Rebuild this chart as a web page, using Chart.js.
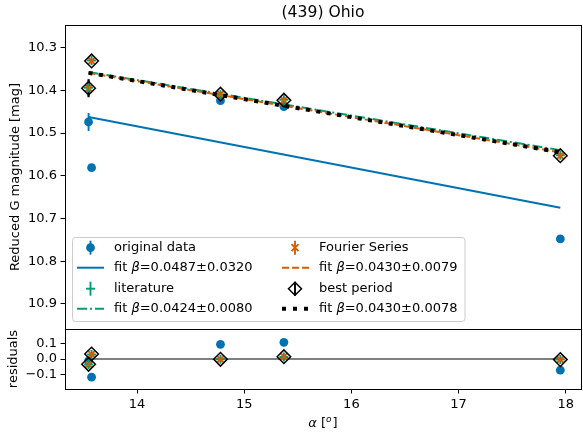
<!DOCTYPE html>
<html>
<head>
<meta charset="utf-8">
<script src="https://cdn.jsdelivr.net/npm/chart.js@4.4.1/dist/chart.umd.min.js"></script>
<style>
  body { margin: 0; background: #fff; }
  #wrap { position: relative; width: 583px; height: 437px; }
  #main { position: absolute; left: 0; top: 0; }
  #res { position: absolute; left: 0; top: 329px; }
</style>
</head>
<body>
<div id="wrap">
  <canvas id="main" width="583" height="330"></canvas>
  <canvas id="res" width="583" height="108"></canvas>
</div>
<script>
// phase angles of the observations [deg]
const alpha = [13.547, 13.575, 14.778, 15.370, 17.950];

// reduced magnitudes
const origMag = [10.474, 10.581, 10.424, 10.438, 10.748];
const origErr = [0.021, 0.004, 0.004, 0.004, 0.004];
const litMag  = [10.394, 10.330, 10.410, 10.422, 10.552];
const litErr  = [0.020, 0.004, 0.004, 0.004, 0.004];
const fourMag = [10.395, 10.331, 10.409, 10.423, 10.553];
const fourErr = [0.020, 0.004, 0.004, 0.004, 0.004];
const bestMag = [10.395, 10.331, 10.409, 10.423, 10.553];
const bestErr = [0.021, 0.004, 0.004, 0.004, 0.004];

// linear fits (end points)
const fitAlpha   = [13.547, 17.950];
const fitOrigMag = [10.4625, 10.675];
const fitLitMag  = [10.357, 10.540];
const fitFourMag = [10.359, 10.545];
const fitBestMag = [10.359, 10.545];

// residuals
const resOrig = [-0.012, -0.120, 0.097, 0.110, -0.074];
const resLit  = [-0.036, 0.030, -0.002, 0.014, -0.004];
const resFour = [-0.035, 0.031, -0.002, 0.015, -0.004];
const resBest = [-0.035, 0.033, -0.002, 0.015, -0.004];
const zeroLine = [0, 0];

const seriesNames = ['original data', 'literature', 'Fourier Series', 'best period'];
const fitBetas = ['0.0487\u00b10.0320', '0.0424\u00b10.0080', '0.0430\u00b10.0079', '0.0430\u00b10.0078'];

const blue = '#0072B2', green = '#009E73', orange = '#D55E00';
const FONT = '"DejaVu Sans"';
const FS = 13;

Chart.defaults.font.family = FONT;
Chart.defaults.font.size = FS;
Chart.defaults.color = '#000';

const pts = (xs, ys) => xs.map((x, i) => ({x: x, y: ys[i]}));

function pointSet(ys, errs, color, style, radius, bw, order) {
  return {
    data: pts(alpha, ys), showLine: false, order: order,
    pointStyle: style, pointRadius: radius, pointBorderWidth: bw,
    pointBackgroundColor: style === 'circle' ? color : 'rgba(0,0,0,0)',
    pointBorderColor: color, errBars: errs, errColor: color
  };
}
function lineSet(xs, ys, color, width, dash, order) {
  return {
    data: pts(xs, ys), showLine: true, pointRadius: 0, order: order,
    borderColor: color, borderWidth: width, borderDash: dash, fill: false
  };
}

const errorBars = {
  id: 'errorBars',
  beforeDatasetsDraw(chart) {
    const {ctx, chartArea: a, scales: {x, y}} = chart;
    ctx.save();
    ctx.beginPath();
    ctx.rect(a.left, a.top, a.right - a.left, a.bottom - a.top);
    ctx.clip();
    chart.data.datasets.forEach(ds => {
      if (!ds.errBars) return;
      ctx.strokeStyle = ds.errColor;
      ctx.lineWidth = 1.9;
      ds.data.forEach((p, i) => {
        const px = x.getPixelForValue(p.x);
        ctx.beginPath();
        ctx.moveTo(px, y.getPixelForValue(p.y - ds.errBars[i]));
        ctx.lineTo(px, y.getPixelForValue(p.y + ds.errBars[i]));
        ctx.stroke();
      });
    });
    ctx.restore();
  }
};

const frame = {
  id: 'frame',
  afterDraw(chart) {
    const {ctx, chartArea: a} = chart;
    const l = Math.round(a.left) + 0.5, r = Math.round(a.right) + 0.5;
    const t = Math.round(a.top) + 0.5, b = Math.round(a.bottom) + 0.5;
    ctx.save();
    ctx.strokeStyle = '#000';
    ctx.lineWidth = 1;
    ctx.strokeRect(l, t, r - l, b - t);
    ctx.restore();
  }
};

function drawParts(ctx, parts, x, y) {
  parts.forEach(p => {
    ctx.font = (p[1] ? 'italic ' : '') + FS + 'px ' + FONT;
    ctx.fillText(p[0], x, y);
    x += ctx.measureText(p[0]).width;
  });
}

function handleLine(ctx, x0, x1, y, color, width, dash) {
  ctx.save();
  ctx.strokeStyle = color;
  ctx.lineWidth = width;
  ctx.setLineDash(dash);
  ctx.beginPath();
  ctx.moveTo(x0, y);
  ctx.lineTo(x1, y);
  ctx.stroke();
  ctx.restore();
}

function vbar(ctx, x, y, color) {
  ctx.strokeStyle = color;
  ctx.lineWidth = 1.9;
  ctx.beginPath();
  ctx.moveTo(x, y - 7);
  ctx.lineTo(x, y + 7);
  ctx.stroke();
}

const decor = {
  id: 'decor',
  afterDraw(chart) {
    const {ctx, chartArea: a} = chart;
    ctx.save();
    // title
    ctx.fillStyle = '#000';
    ctx.font = '15.6px ' + FONT;
    ctx.textAlign = 'center';
    ctx.textBaseline = 'middle';
    ctx.fillText('(439) Ohio', (a.left + a.right) / 2, 13);

    // legend box
    const bx = 72.5, by = 237.5, bw = 392.5, bh = 84;
    ctx.beginPath();
    ctx.roundRect(bx, by, bw, bh, 3);
    ctx.fillStyle = 'rgba(255,255,255,0.8)';
    ctx.fill();
    ctx.strokeStyle = '#cccccc';
    ctx.lineWidth = 1;
    ctx.stroke();

    const rows = [247.7, 267.7, 288.7, 308.7];
    const cx = [90.5, 295], tx = [114, 319];
    const h0 = [77, 282], h1 = [104, 309];

    // handles
    // original data
    vbar(ctx, cx[0], rows[0], blue);
    ctx.fillStyle = blue;
    ctx.beginPath(); ctx.arc(cx[0], rows[0], 4.4, 0, Math.PI * 2); ctx.fill();
    handleLine(ctx, h0[0], h1[0], rows[1], blue, 2, []);
    // literature
    vbar(ctx, cx[0], rows[2], green);
    ctx.beginPath();
    ctx.moveTo(cx[0] - 4.5, rows[2]); ctx.lineTo(cx[0] + 4.5, rows[2]);
    ctx.stroke();
    handleLine(ctx, h0[0], h1[0], rows[3], green, 2, [10, 3, 2, 3]);
    // Fourier series
    vbar(ctx, cx[1], rows[0], orange);
    ctx.beginPath();
    ctx.moveTo(cx[1] - 3.5, rows[0] - 3.5); ctx.lineTo(cx[1] + 3.5, rows[0] + 3.5);
    ctx.moveTo(cx[1] + 3.5, rows[0] - 3.5); ctx.lineTo(cx[1] - 3.5, rows[0] + 3.5);
    ctx.stroke();
    handleLine(ctx, h0[1], h1[1], rows[1], orange, 2, [7, 3]);
    // best period
    vbar(ctx, cx[1], rows[2], '#000');
    ctx.lineWidth = 1.5;
    ctx.beginPath();
    ctx.moveTo(cx[1] - 6.5, rows[2]); ctx.lineTo(cx[1], rows[2] - 6.5);
    ctx.lineTo(cx[1] + 6.5, rows[2]); ctx.lineTo(cx[1], rows[2] + 6.5);
    ctx.closePath();
    ctx.stroke();
    handleLine(ctx, h0[1], h1[1], rows[3], '#000', 4, [4, 7]);

    // labels
    ctx.fillStyle = '#000';
    ctx.textAlign = 'left';
    ctx.textBaseline = 'middle';
    for (let k = 0; k < 4; k++) {
      const col = k < 2 ? 0 : 1;
      const r = (k % 2) * 2;
      drawParts(ctx, [[seriesNames[k], false]], tx[col], rows[r]);
      drawParts(ctx, [['fit ', false], ['\u03b2', true], ['=' + fitBetas[k], false]], tx[col], rows[r + 1]);
    }
    ctx.restore();
  }
};

const xalabel = {
  id: 'xalabel',
  afterDraw(chart) {
    const {ctx, chartArea: a} = chart;
    ctx.save();
    ctx.fillStyle = '#000';
    ctx.textBaseline = 'middle';
    ctx.textAlign = 'left';
    const y = 94.5;
    const f = FS + 'px ' + FONT, fi = 'italic ' + FS + 'px ' + FONT, fs = 'italic 9px ' + FONT;
    ctx.font = fi; const w1 = ctx.measureText('\u03b1').width;
    ctx.font = f; const w2 = ctx.measureText(' [').width, w4 = ctx.measureText(']').width;
    ctx.font = fs; const w3 = ctx.measureText('o').width + 1;
    let x = (a.left + a.right) / 2 - (w1 + w2 + w3 + w4) / 2;
    ctx.font = fi; ctx.fillText('\u03b1', x, y); x += w1;
    ctx.font = f; ctx.fillText(' [', x, y); x += w2;
    ctx.font = fs; ctx.fillText('o', x, y - 4); x += w3;
    ctx.font = f; ctx.fillText(']', x, y);
    ctx.restore();
  }
};

const xMin = 13.327, xMax = 18.143;

const yTicks = {
  padding: 3.5, includeBounds: false, stepSize: 0.1, color: '#000',
  callback: v => (Math.abs(v) < 1e-9 ? '0.0' : v.toFixed(1).replace('-', '\u2212'))
};
const tickGrid = {drawOnChartArea: false, drawTicks: true, tickLength: 4.5, color: '#000', lineWidth: 1};

// fixed axis box sizes, no extra label overflow padding
const fixY = s => { s.width = 65; s.paddingTop = 0; s.paddingBottom = 0; };
const fixX = s => { s.height = 48; s.paddingLeft = 0; s.paddingRight = 0; };

new Chart(document.getElementById('main'), {
  type: 'scatter',
  data: {
    datasets: [
      lineSet(fitAlpha, fitOrigMag, blue, 2, [], 9),
      pointSet(origMag, origErr, blue, 'circle', 4.4, 0, 8),
      lineSet(fitAlpha, fitLitMag, green, 2, [10, 3, 2, 3], 7),
      pointSet(litMag, litErr, green, 'cross', 4.5, 2, 6),
      lineSet(fitAlpha, fitFourMag, orange, 2, [7, 3], 5),
      pointSet(fourMag, fourErr, orange, 'crossRot', 4.5, 2, 4),
      lineSet(fitAlpha, fitBestMag, '#000', 4, [4, 6.5], 3),
      pointSet(bestMag, bestErr, '#000', 'rectRot', 6.8, 1.5, 2)
    ]
  },
  options: {
    responsive: false,
    animation: false,
    events: [],
    layout: {autoPadding: false, padding: {top: 25, right: 2, bottom: 1, left: 0}},
    plugins: {legend: {display: false}, tooltip: {enabled: false}},
    scales: {
      x: {type: 'linear', display: false, min: xMin, max: xMax},
      y: {
        type: 'linear', reverse: true, min: 10.2468, max: 10.959,
        afterFit: fixY,
        ticks: yTicks,
        grid: tickGrid,
        border: {display: false},
        title: {display: true, text: 'Reduced G magnitude [mag]', padding: {top: 8, bottom: 0}, color: '#000'}
      }
    }
  },
  plugins: [errorBars, frame, decor]
});

new Chart(document.getElementById('res'), {
  type: 'scatter',
  data: {
    datasets: [
      lineSet(fitAlpha, zeroLine, '#808080', 2, [], 9),
      pointSet(resOrig, origErr, blue, 'circle', 4.4, 0, 8),
      pointSet(resLit, litErr, green, 'cross', 4.5, 2, 6),
      pointSet(resFour, fourErr, orange, 'crossRot', 4.5, 2, 4),
      pointSet(resBest, bestErr, '#000', 'rectRot', 6.8, 1.5, 2)
    ]
  },
  options: {
    responsive: false,
    animation: false,
    events: [],
    layout: {autoPadding: false, padding: {top: 0, right: 2, bottom: 0, left: 0}},
    plugins: {legend: {display: false}, tooltip: {enabled: false}},
    scales: {
      x: {
        type: 'linear', min: xMin, max: xMax,
        afterFit: fixX,
        ticks: {stepSize: 1, includeBounds: false, padding: 3, color: '#000', callback: v => String(v)},
        grid: tickGrid,
        border: {display: false}
      },
      y: {
        type: 'linear', min: -0.198, max: 0.198,
        afterFit: fixY,
        ticks: yTicks,
        grid: tickGrid,
        border: {display: false},
        title: {display: true, text: 'residuals', padding: {top: 6, bottom: 0}, color: '#000'}
      }
    }
  },
  plugins: [errorBars, frame, xalabel]
});
</script>
</body>
</html>
